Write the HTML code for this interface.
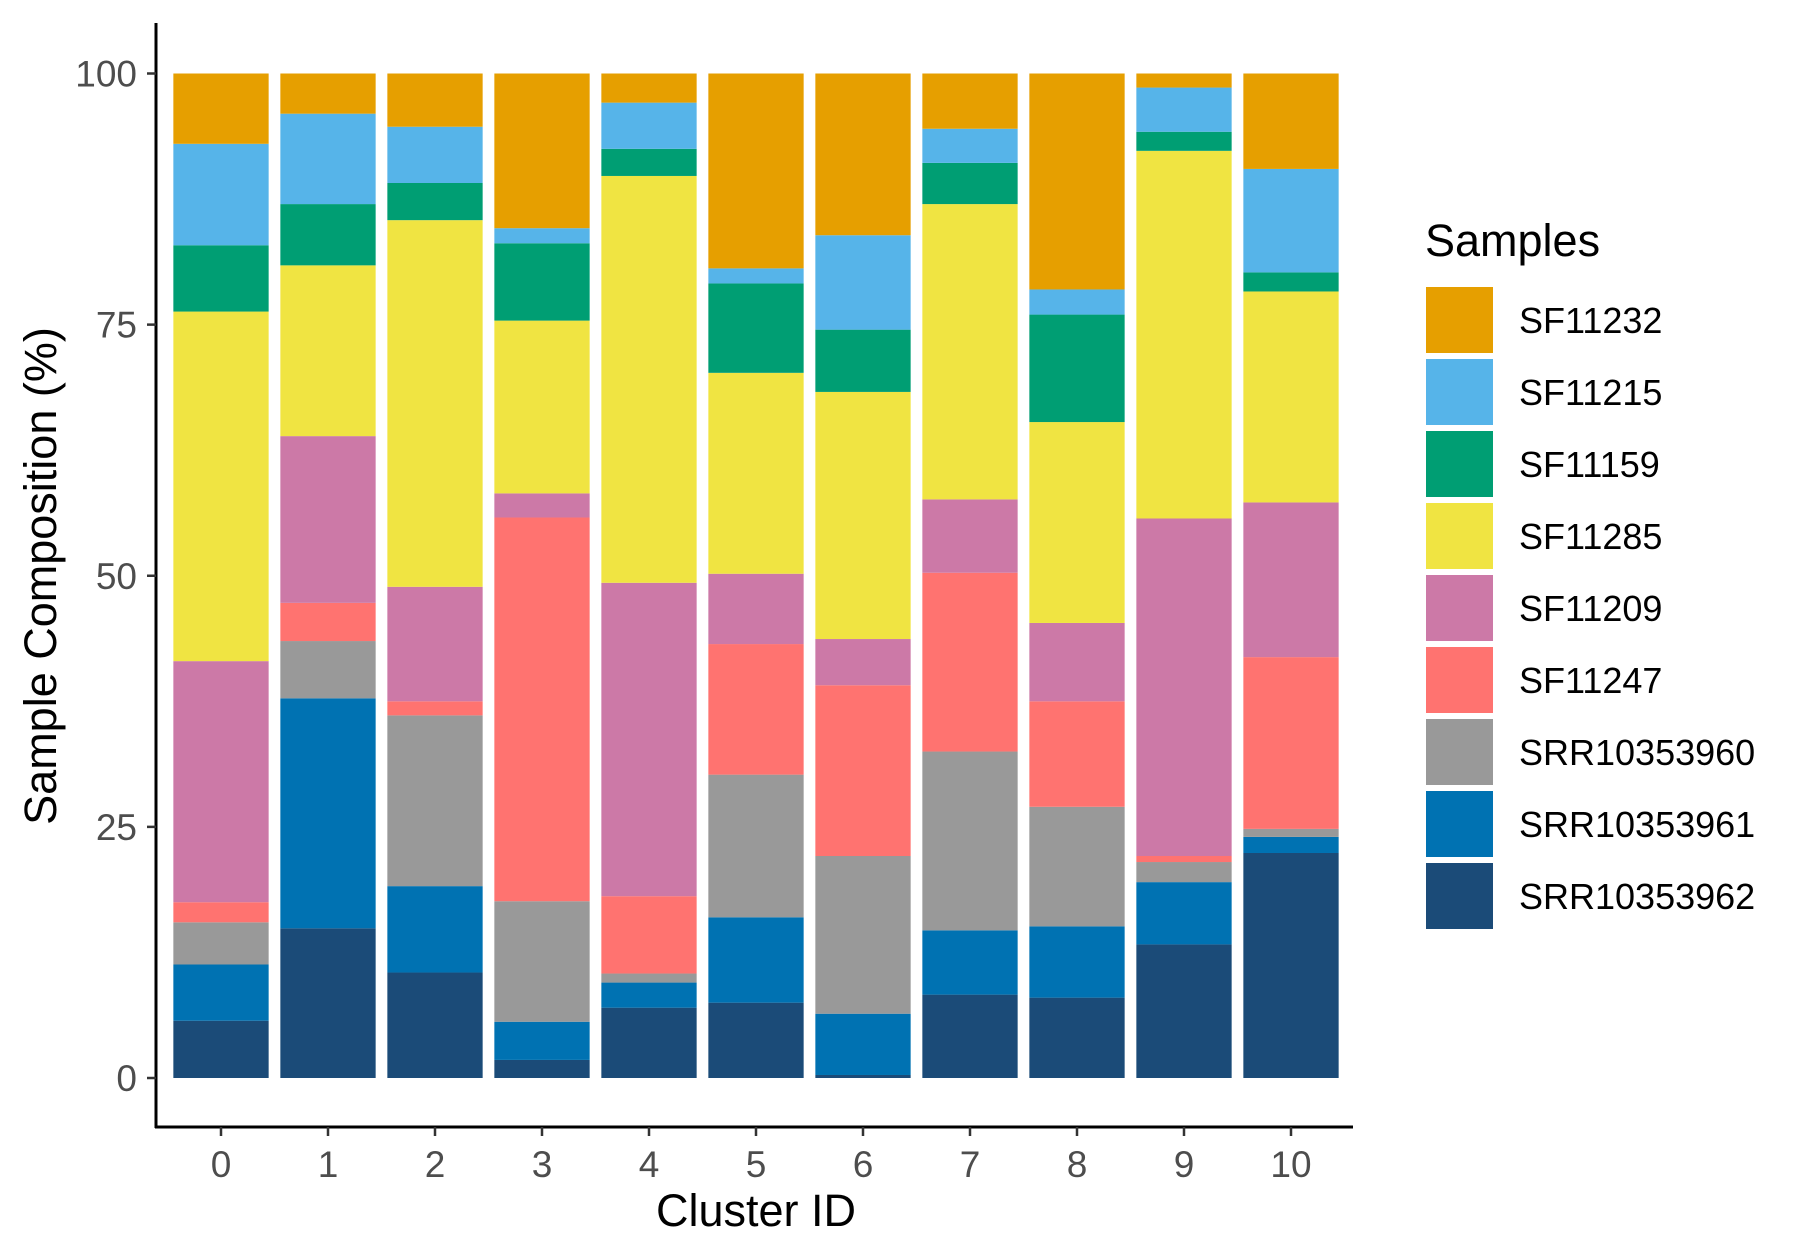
<!DOCTYPE html>
<html><head><meta charset="utf-8"><style>
html,body{margin:0;padding:0;background:#fff;}
svg{display:block;font-family:"Liberation Sans",sans-serif;}
</style></head><body>
<svg id="chart" width="1800" height="1259" viewBox="0 0 1800 1259">
<g id="bars"></g>
<g id="axes"></g>
<g id="legend"></g>
</svg>
<script>
const categories = ["0","1","2","3","4","5","6","7","8","9","10"];
const samples = ["SF11232","SF11215","SF11159","SF11285","SF11209","SF11247","SRR10353960","SRR10353961","SRR10353962"];
const colors = ["#E69F00","#56B4E9","#009E73","#F0E442","#CC79A7","#FF7370","#999999","#0072B2","#1B4B78"];
const SRR10353962 = [5.7,14.9,10.5,1.8,7.0,7.5,0.3,8.3,8.0,13.3,22.4];
const SRR10353961 = [5.6,22.9,8.6,3.8,2.5,8.5,6.1,6.4,7.1,6.2,1.6];
const SRR10353960 = [4.2,5.7,17.0,12.0,0.9,14.2,15.7,17.8,11.9,2.0,0.8];
const SF11247 = [2.0,3.8,1.4,38.2,7.7,13.0,17.0,17.8,10.5,0.6,17.1];
const SF11209 = [24.0,16.6,11.4,2.4,31.2,7.0,4.6,7.3,7.8,33.6,15.4];
const SF11285 = [34.8,17.0,36.5,17.2,40.5,20.0,24.6,29.4,20.0,36.6,21.0];
const SF11159 = [6.6,6.1,3.7,7.7,2.7,8.9,6.2,4.1,10.7,1.9,1.9];
const SF11215 = [10.1,9.0,5.6,1.5,4.6,1.5,9.4,3.4,2.5,4.4,10.3];
const SF11232 = [7.0,4.0,5.3,15.4,2.9,19.4,16.1,5.5,21.5,1.4,9.5];
const yTicks = [0,25,50,75,100];

const seriesBottomUp = [SRR10353962,SRR10353961,SRR10353960,SF11247,SF11209,SF11285,SF11159,SF11215,SF11232];
const namesBottomUp = ["SRR10353962","SRR10353961","SRR10353960","SF11247","SF11209","SF11285","SF11159","SF11215","SF11232"];
const NS = "http://www.w3.org/2000/svg";
const y0px = 1078, y100px = 73.5;
const yScale = v => y0px - (y0px - y100px) * v / 100;
const x0 = 221, step = 107, barW = 95.3;
const xScale = i => x0 + step * i;
function mk(tag, attrs, parent){const e=document.createElementNS(NS,tag);for(const k in attrs)e.setAttribute(k,attrs[k]);parent.appendChild(e);return e;}
const gb = document.getElementById('bars');
categories.forEach((c,i)=>{
  let total = 0; seriesBottomUp.forEach(s=>total+=s[i]);
  let cum = 0;
  seriesBottomUp.forEach((s,k)=>{
    const v = s[i]/total*100;
    const yTop = yScale(cum+v), yBot = yScale(cum);
    const r = mk('rect',{x:xScale(i)-barW/2,y:yTop,width:barW,height:Math.max(0,yBot-yTop),fill:colors[samples.indexOf(namesBottomUp[k])]},gb);
    
    
    cum += v;
  });
});
const ga = document.getElementById('axes');
let l = mk('line',{x1:156,y1:23,x2:156,y2:1128,stroke:'#000','stroke-width':3},ga);
 
l = mk('line',{x1:155,y1:1127,x2:1353,y2:1127,stroke:'#000','stroke-width':3},ga);
 
yTicks.forEach(t=>{
  const y = yScale(t);
  const tk = mk('line',{x1:147,y1:y,x2:156,y2:y,stroke:'#333','stroke-width':2.5},ga);
   
  const tx = mk('text',{x:137,y:y+13,'text-anchor':'end','font-size':37,fill:'#4d4d4d'},ga);
  tx.textContent = t;
   
});
categories.forEach((c,i)=>{
  const x = xScale(i);
  const tk = mk('line',{x1:x,y1:1127,x2:x,y2:1136,stroke:'#333','stroke-width':2.5},ga);
   
  const tx = mk('text',{x:x,y:1177,'text-anchor':'middle','font-size':37,fill:'#4d4d4d'},ga);
  tx.textContent = c;
   
});
let t = mk('text',{x:756,y:1226,'text-anchor':'middle','font-size':45,fill:'#000'},ga);
t.textContent='Cluster ID';  
t = mk('text',{x:0,y:0,'text-anchor':'middle','font-size':45,fill:'#000',transform:'translate(56,576) rotate(-90)'},ga);
t.textContent='Sample Composition (%)';  
const gl = document.getElementById('legend');
t = mk('text',{x:1425,y:256,'font-size':45,fill:'#000'},gl);
t.textContent='Samples';  
samples.forEach((s,k)=>{
  const y = 287 + 72*k;
  const r = mk('rect',{x:1426,y:y,width:67,height:66,fill:colors[k]},gl);
   
  const tx = mk('text',{x:1519,y:y+46,'font-size':36,fill:'#000'},gl);
  tx.textContent = s;
   
});
</script>
</body></html>
